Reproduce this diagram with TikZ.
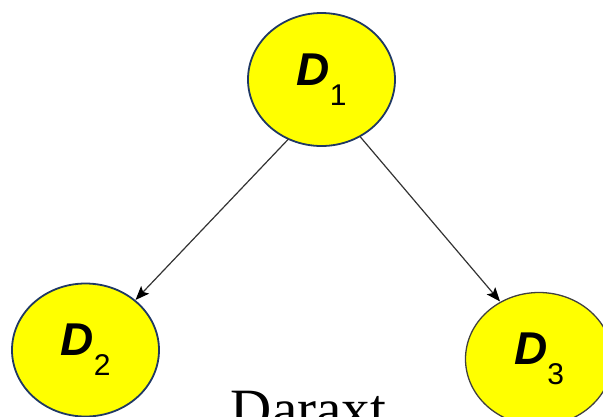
\documentclass[tikz,border=0pt]{standalone}
\usepackage{fontspec}
\setmainfont{Liberation Serif}
\newfontfamily\labelfont{Liberation Sans}
\usetikzlibrary{shapes.geometric,arrows.meta}

\definecolor{nodefill}{HTML}{FFFF00}
\definecolor{nodeedge}{HTML}{1F3864}
\definecolor{edgegray}{HTML}{333333}

\newcommand{\dlabel}[1]{\labelfont{\fontsize{46}{50}\selectfont\bfseries\itshape D}\raisebox{-20pt}{\fontsize{30}{32}\selectfont #1}}

\tikzset{
  dnode/.style={ellipse, draw=nodeedge, line width=1.8pt, fill=nodefill,
    minimum width=147pt, minimum height=133pt, inner sep=0pt, outer sep=0pt},
  link/.style={draw=edgegray, line width=1.2pt,
    -{Stealth[length=14pt, width=11pt, inset=3pt, color=black]}, shorten >=1pt}
}

\begin{document}
\begin{tikzpicture}[x=1pt, y=1pt]
  \useasboundingbox (0,0) rectangle (603,-416);
  \clip (0,0) rectangle (603,-416);

  \node[dnode] (d1) at (321.5,-79.5) {\dlabel{1}};
  \node[dnode] (d2) at (85.5,-350) {\dlabel{2}};
  \node[dnode, draw=black!75, line width=1.3pt] (d3) at (539,-359) {\dlabel{3}};

  \draw[link] (d1.241) -- (d2.45);
  \draw[link] (d1.304) -- (d3.124);

  \node[anchor=base, inner sep=0pt, font=\fontsize{57}{60}\selectfont] (caption) at (308.5,-428) {Daraxt};
\end{tikzpicture}
\end{document}
